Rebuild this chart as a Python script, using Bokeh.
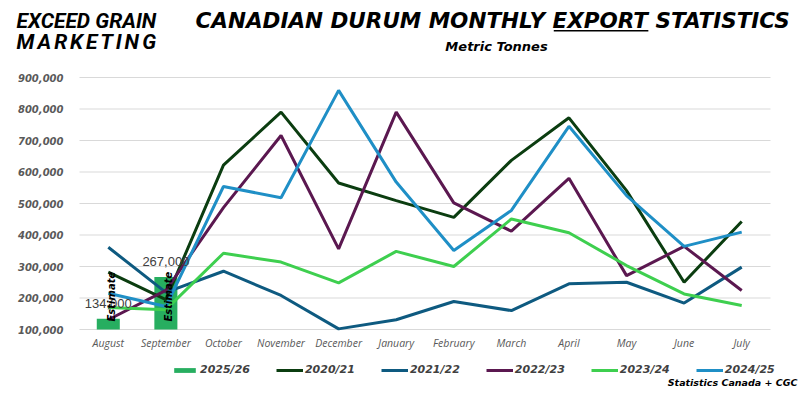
import math
from bokeh.plotting import figure
from bokeh.models import (Range1d, FixedTicker, NumeralTickFormatter, Legend, LegendItem,
                          Label, LabelSet, ColumnDataSource, BoxAnnotation)
from bokeh.core.properties import value
from bokeh.embed import file_html
from bokeh.resources import INLINE

# ---------------- data ----------------
months = ["August", "September", "October", "November", "December", "January",
          "February", "March", "April", "May", "June", "July"]
est_months = ["August", "September"]
est_values = [134000, 267000]
est_value_labels = ["134,000", "267,000"]
est_notes = ["Estimate", "Estimate"]
axis_floor = 100000

s2020_21 = [282000, 195000, 622000, 790000, 565000, 509000, 456000, 637000, 772000, 541000, 250000, 443000]
s2021_22 = [361000, 218000, 285000, 208000, 102000, 131000, 189000, 160000, 245000, 250000, 184000, 298000]
s2022_23 = [131000, 224000, 487000, 716000, 356000, 790000, 502000, 412000, 580000, 271000, 364000, 224000]
s2023_24 = [170000, 163000, 342000, 314000, 248000, 348000, 300000, 451000, 407000, 303000, 213000, 176000]
s2024_25 = [215000, 173000, 554000, 518000, 859000, 568000, 351000, 478000, 745000, 525000, 364000, 409000]

series_names = ["2020/21", "2021/22", "2022/23", "2023/24", "2024/25"]
series_values = [s2020_21, s2021_22, s2022_23, s2023_24, s2024_25]
series_colors = ["#0b3d10", "#0e5a80", "#5b1850", "#3ecf4f", "#1f8fc6"]
bar_name = "2025/26"
bar_color = "#27ae60"

y_ticks = [100000, 200000, 300000, 400000, 500000, 600000, 700000, 800000, 900000]

title_text = "CANADIAN DURUM MONTHLY EXPORT STATISTICS"
subtitle_text = "Metric Tonnes"
logo_line1 = "EXCEED GRAIN"
logo_line2 = "MARKETING"
source_text = "Statistics Canada + CGC"

# ---------------- layout constants (pixels) ----------------
W, H = 799, 394
PLOT_L, PLOT_R = 79, 770              # plot area left/right edge
FLOOR_Y, TOP_TICK_Y = 329, 77         # pixel rows of the 100k and 900k grid lines
n = len(months)
ppx = (PLOT_R - PLOT_L) / n           # pixels per month slot
ppy = (FLOOR_Y - TOP_TICK_Y) / (y_ticks[-1] - y_ticks[0])
x_start = -0.5 - PLOT_L / ppx
x_end = n - 0.5 + (W - PLOT_R) / ppx
y_start = y_ticks[0] - (H - FLOOR_Y) / ppy
y_end = y_ticks[-1] + TOP_TICK_Y / ppy

xi = list(range(n))
est_x = [months.index(m) for m in est_months]

p = figure(x_range=Range1d(x_start, x_end), y_range=Range1d(y_start, y_end),
           width=W, height=H, output_backend="svg", toolbar_location=None, min_border=0)
p.outline_line_color = None
p.background_fill_color = "white"
p.border_fill_color = "white"
p.grid.visible = False

# grid lines limited to the plot area
p.segment(x0=[-0.5] * len(y_ticks), x1=[n - 0.5] * len(y_ticks), y0=y_ticks, y1=y_ticks,
          line_color="#d9d9d9", line_width=1.2)

# axes placed inside the canvas
p.xaxis.fixed_location = axis_floor
p.yaxis.fixed_location = -0.5
p.xaxis.ticker = FixedTicker(ticks=xi)
p.xaxis.major_label_overrides = {i: m for i, m in zip(xi, months)}
p.yaxis.ticker = FixedTicker(ticks=y_ticks)
p.yaxis.formatter = NumeralTickFormatter(format="0,0")
for ax in (p.xaxis[0], p.yaxis[0]):
    ax.axis_line_color = None
    ax.major_tick_line_color = None
    ax.minor_tick_line_color = None
    ax.major_tick_out = 0
    ax.major_tick_in = 0
p.yaxis.major_label_text_font = "DejaVu Sans"
p.yaxis.major_label_text_font_style = "bold italic"
p.yaxis.major_label_text_font_size = "10px"
p.yaxis.major_label_text_color = "#595959"
p.yaxis.major_label_standoff = 16
p.xaxis.major_label_text_font = "Open Sans"
p.xaxis.major_label_text_font_style = "italic"
p.xaxis.major_label_text_font_size = "10.5px"
p.xaxis.major_label_text_color = "#595959"
p.xaxis.major_label_standoff = 6

# bars
bar_src = ColumnDataSource(dict(x=est_x, v=est_values, t=est_value_labels,
                                nt=est_notes, b=[axis_floor] * len(est_x)))
bars = p.vbar(x="x", top="v", bottom="b", width=0.40, source=bar_src,
              fill_color=bar_color, line_color=None)

# lines
line_renderers = []
for name, vals, col in zip(series_names, series_values, series_colors):
    line_renderers.append(p.line(xi, vals, line_width=3, line_color=col))

# data labels
p.add_layout(LabelSet(x="x", y="v", text="t", source=bar_src, y_offset=15,
                      text_align="center", text_baseline="middle",
                      text_font=value("Liberation Sans"), text_font_size="13px",
                      text_color="#404040"))
p.add_layout(LabelSet(x="x", y="b", text="nt", source=bar_src, angle=math.pi / 2,
                      y_offset=8, x_offset=3, text_align="left", text_baseline="middle",
                      text_font=value("DejaVu Sans"), text_font_style="bold italic",
                      text_font_size="10px", text_color="black"))

# legend
items = [LegendItem(label=bar_name, renderers=[bars])]
items += [LegendItem(label=nm, renderers=[r]) for nm, r in zip(series_names, line_renderers)]
legend = Legend(items=items, orientation="horizontal", location=(171, 18),
                glyph_width=27, glyph_height=6, label_standoff=2, spacing=26,
                padding=0, margin=0, border_line_color=None, background_fill_alpha=0,
                label_text_font="DejaVu Sans", label_text_font_style="bold italic",
                label_text_font_size="11px", label_text_color="#404040")
p.add_layout(legend)


def label(text, x_px, y_top_px, **kw):
    p.add_layout(Label(x=x_px, y=H - y_top_px, x_units="screen", y_units="screen",
                       text=text, **kw))


# logo
LOGO = dict(text_font="Roboto", text_font_style="bold italic", text_color="black",
            text_baseline="middle")
label(logo_line1, 16, 20, text_font_size="21px", **LOGO)
lw = {"M": 0.87, "A": 0.66, "R": 0.62, "K": 0.63, "E": 0.54, "T": 0.61, "I": 0.28,
      "N": 0.71, "G": 0.68}
fs2, track, cx = 21, 2.8, 16
for ch in logo_line2:
    label(ch, cx, 41, text_font_size=f"{fs2}px", **LOGO)
    cx += lw[ch] * fs2 + track

# title with underlined word
TITLE_FS = 21.5
tx0 = 195
label(title_text, tx0, 20, text_font="DejaVu Sans", text_font_style="bold italic",
      text_font_size=f"{TITLE_FS}px", text_color="black", text_baseline="middle")
u0 = tx0 + 16.757 * TITLE_FS - 2
u1 = u0 + 4.492 * TITLE_FS - 2
p.add_layout(BoxAnnotation(left=u0, right=u1, bottom=H - 31, top=H - 29.5,
                           left_units="screen", right_units="screen",
                           bottom_units="screen", top_units="screen",
                           fill_color="black", fill_alpha=1, line_color=None))
label(subtitle_text, 496, 46, text_font="DejaVu Sans", text_font_style="bold italic",
      text_font_size="13px", text_color="black", text_align="center", text_baseline="middle")
label(source_text, 797, 382, text_font="DejaVu Sans", text_font_style="bold italic",
      text_font_size="9.5px", text_color="black", text_align="right", text_baseline="middle")

open("out.html", "w").write(file_html(p, INLINE))
